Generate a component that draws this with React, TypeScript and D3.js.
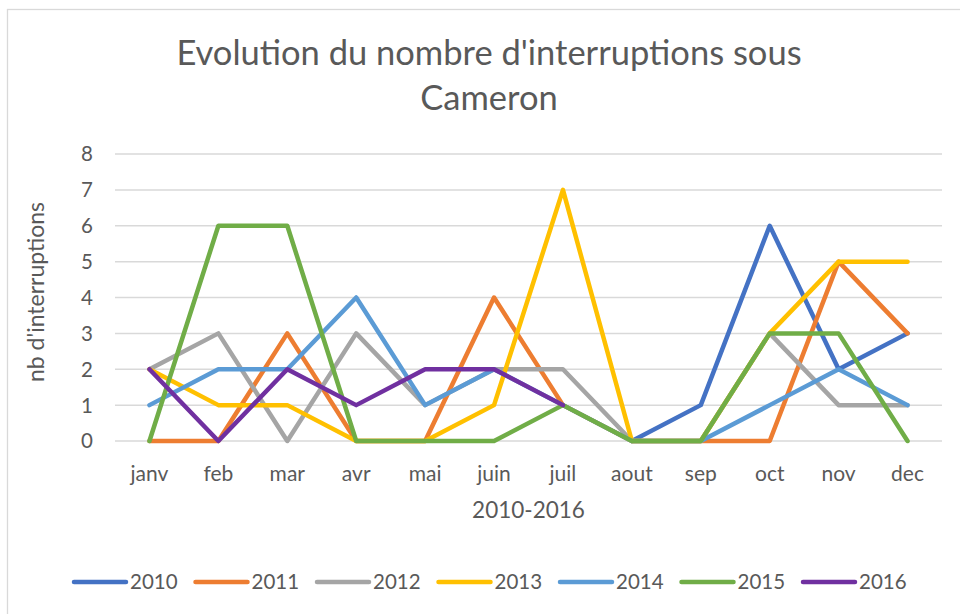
import React, { useEffect, useRef } from 'react';
import * as d3 from 'd3';

// months shown on the x axis
const months = ['janv', 'feb', 'mar', 'avr', 'mai', 'juin', 'juil', 'aout', 'sep', 'oct', 'nov', 'dec'];
const yTicks = [0, 1, 2, 3, 4, 5, 6, 7, 8];

// values per year (null = no data)
const s2010 = [null, null, null, null, null, null, null, 0, 1, 6, 2, 3];
const s2011 = [0, 0, 3, 0, 0, 4, 1, 0, 0, 0, 5, 3];
const s2012 = [2, 3, 0, 3, 1, 2, 2, 0, 0, 3, 1, 1];
const s2013 = [2, 1, 1, 0, 0, 1, 7, 0, 0, 3, 5, 5];
const s2014 = [1, 2, 2, 4, 1, 2, 1, 0, 0, 1, 2, 1];
const s2015 = [0, 6, 6, 0, 0, 0, 1, 0, 0, 3, 3, 0];
const s2016 = [2, 0, 2, 1, 2, 2, 1, null, null, null, null, null];

const seriesNames = ['2010', '2011', '2012', '2013', '2014', '2015', '2016'];
const seriesValues = [s2010, s2011, s2012, s2013, s2014, s2015, s2016];
const seriesColors = ['#4472C4', '#ED7D31', '#A5A5A5', '#FFC000', '#5B9BD5', '#70AD47', '#7030A0'];

const App = () => {
  const svgRef = useRef<SVGSVGElement>(null);

  useEffect(() => {
    const width = 960;
    const height = 614;
    const margin = { top: 154, right: 18, bottom: 173, left: 115 };
    const font = 'Lato, "Open Sans", sans-serif';
    const textColor = '#595959';

    const svg = d3.select(svgRef.current);
    svg.selectAll('*').remove();
    svg.attr('width', width).attr('height', height);

    svg.append('rect')
      .attr('width', width).attr('height', height).attr('fill', '#fff');

    // chart border
    svg.append('rect')
      .attr('x', 7.5).attr('y', 9.5)
      .attr('width', width + 10).attr('height', height + 10)
      .attr('fill', 'none').attr('stroke', '#D9D9D9').attr('stroke-width', 1.3);

    const x = d3.scalePoint<string>()
      .domain(months)
      .range([margin.left, width - margin.right])
      .padding(0.5);

    const y = d3.scaleLinear()
      .domain([0, 8])
      .range([height - margin.bottom, margin.top]);

    // gridlines
    svg.append('g')
      .selectAll('line')
      .data(yTicks)
      .enter().append('line')
      .attr('x1', margin.left).attr('x2', width - margin.right)
      .attr('y1', d => y(d)).attr('y2', d => y(d))
      .attr('stroke', '#D9D9D9').attr('stroke-width', 1.5);

    // y tick labels
    svg.append('g')
      .selectAll('text')
      .data(yTicks)
      .enter().append('text')
      .attr('x', 93).attr('y', d => y(d))
      .attr('dy', '0.36em')
      .attr('text-anchor', 'end')
      .attr('font-family', font).attr('font-size', 20.5)
      .attr('fill', textColor)
      .text(d => d);

    // x tick labels
    svg.append('g')
      .selectAll('text')
      .data(months)
      .enter().append('text')
      .attr('x', d => x(d)!)
      .attr('y', 481)
      .attr('text-anchor', 'middle')
      .attr('font-family', font).attr('font-size', 21)
      .attr('fill', textColor)
      .text(d => d);

    // lines
    const line = d3.line<number | null>()
      .defined(d => d !== null)
      .x((_, i) => x(months[i])!)
      .y(d => y(d as number));

    seriesValues.forEach((vals, i) => {
      svg.append('path')
        .datum(vals)
        .attr('d', line)
        .attr('fill', 'none')
        .attr('stroke', seriesColors[i])
        .attr('stroke-width', 4.5)
        .attr('stroke-linejoin', 'round')
        .attr('stroke-linecap', 'round');
    });

    // title
    const title = svg.append('text')
      .attr('text-anchor', 'middle')
      .attr('font-family', font).attr('font-size', 34.5)
      .attr('fill', textColor);
    title.append('tspan').attr('x', 489).attr('y', 65).text("Evolution du nombre d'interruptions sous");
    title.append('tspan').attr('x', 489).attr('y', 110).text('Cameron');

    // axis titles
    svg.append('text')
      .attr('x', (margin.left + width - margin.right) / 2).attr('y', 518)
      .attr('text-anchor', 'middle')
      .attr('font-family', font).attr('font-size', 22.5)
      .attr('fill', textColor)
      .text('2010-2016');

    svg.append('text')
      .attr('transform', 'translate(44,292) rotate(-90)')
      .attr('text-anchor', 'middle')
      .attr('font-family', font).attr('font-size', 23)
      .attr('fill', textColor)
      .text("nb d'interruptions");

    // legend
    const legend = svg.append('g');
    seriesNames.forEach((name, i) => {
      const lx = 74 + i * 121.5;
      legend.append('line')
        .attr('x1', lx).attr('x2', lx + 52)
        .attr('y1', 582).attr('y2', 582)
        .attr('stroke', seriesColors[i])
        .attr('stroke-width', 4.5)
        .attr('stroke-linecap', 'round');
      legend.append('text')
        .attr('x', lx + 56).attr('y', 582)
        .attr('dy', '0.36em')
        .attr('font-family', font).attr('font-size', 20.5)
        .attr('fill', textColor)
        .text(name);
    });
  }, []);

  return (
    <svg ref={svgRef} style={{ position: 'absolute', top: 0, left: 0, display: 'block' }}></svg>
  );
};

export default App;
